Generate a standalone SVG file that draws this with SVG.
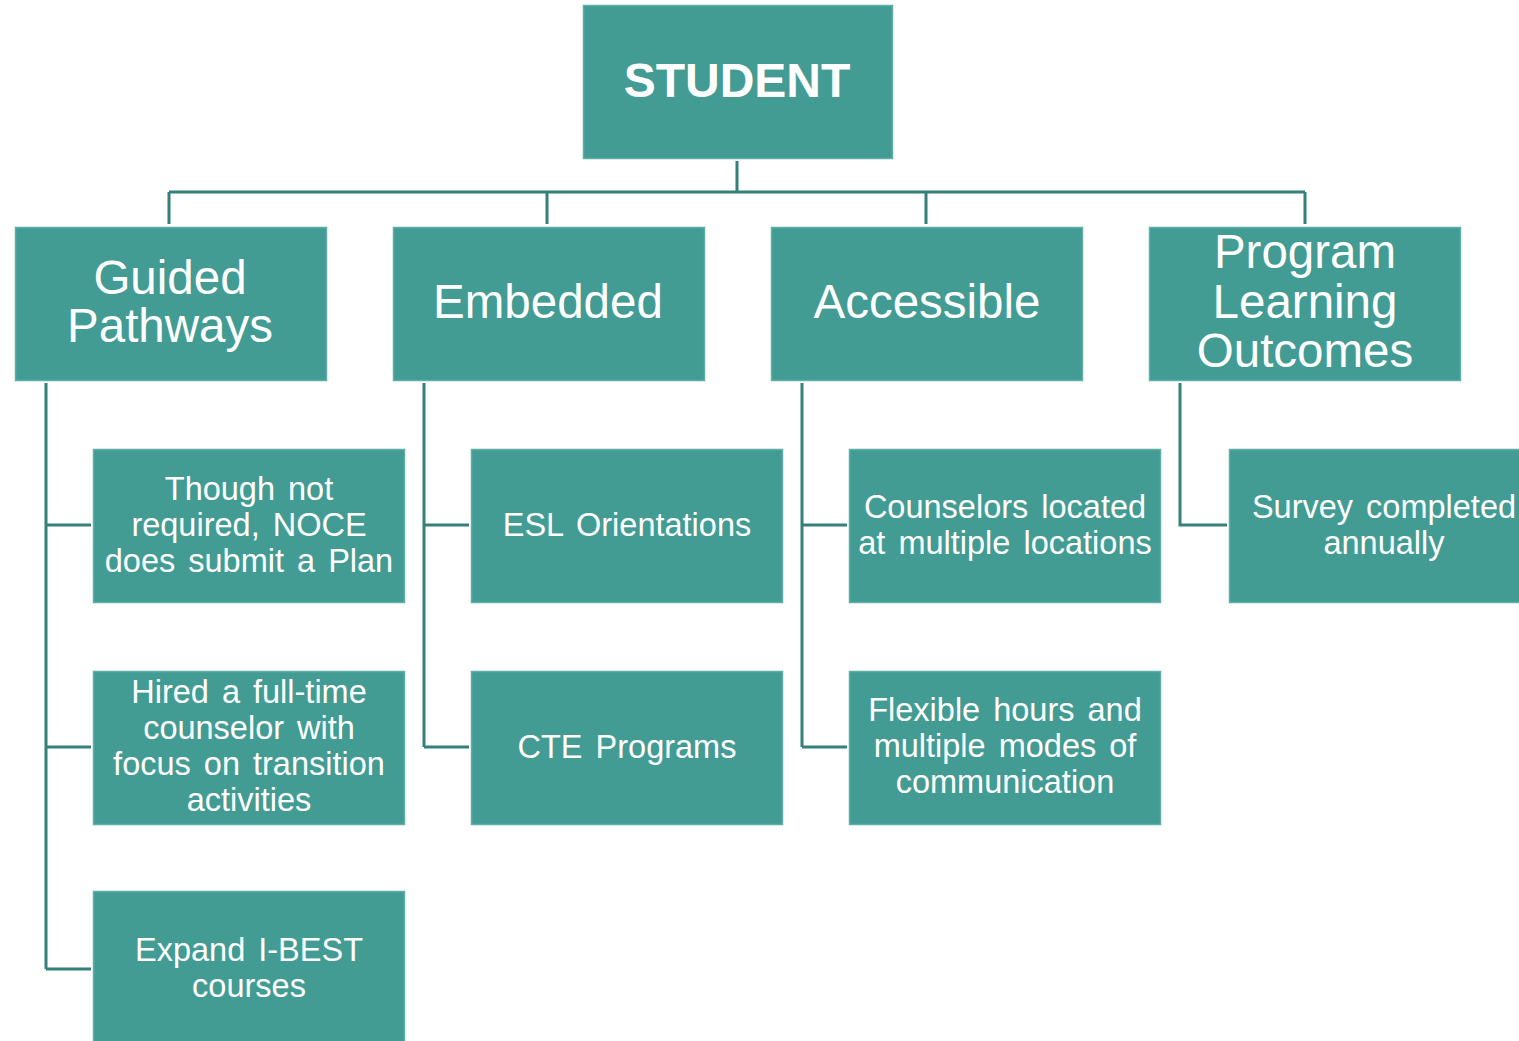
<svg xmlns="http://www.w3.org/2000/svg" width="1519" height="1041" viewBox="0 0 1519 1041">
<style>
.box{fill:#429C94;stroke:#5FAEA7;stroke-width:1.5}
.t{font-family:"Liberation Sans",Arial,sans-serif;fill:#FFFFFF;text-anchor:middle}
.l1{font-size:48px;font-weight:bold}
.l2{font-size:47.5px}
.l3{font-size:32.5px;word-spacing:4px}
.c{fill:none;stroke:#35807A;stroke-width:3}
</style>
<rect width="1519" height="1041" fill="#FFFFFF"/>
<g id="connectors">
<path class="c" d="M737,161 V192 M169,192 H1305 M169,192 V224 M547,192 V224 M926,192 V224 M1305,192 V224"/>
<path class="c" d="M46,383 V969 M46,525 H91 M46,747 H91 M46,969 H91"/>
<path class="c" d="M424,383 V747 M424,525 H469 M424,747 H469"/>
<path class="c" d="M802,383 V747 M802,525 H847 M802,747 H847"/>
<path class="c" d="M1180,383 V525 H1227"/>
</g>
<g id="student"><rect class="box" x="583.5" y="5.5" width="309" height="153"/><text class="t l1" x="737" y="97">STUDENT</text></g>
<g id="guided"><rect class="box" x="15.5" y="227.5" width="311" height="153"/><text class="t l2" x="170" y="294">Guided</text><text class="t l2" x="170" y="342">Pathways</text></g>
<g id="embedded"><rect class="box" x="393.5" y="227.5" width="311" height="153"/><text class="t l2" x="548" y="318">Embedded</text></g>
<g id="accessible"><rect class="box" x="771.5" y="227.5" width="311" height="153"/><text class="t l2" x="927" y="318">Accessible</text></g>
<g id="plo"><rect class="box" x="1149.5" y="227.5" width="311" height="153"/><text class="t l2" x="1305" y="268">Program</text><text class="t l2" x="1305" y="318">Learning</text><text class="t l2" x="1305" y="367">Outcomes</text></g>
<g id="noce"><rect class="box" x="93.5" y="449.5" width="311" height="153"/><text class="t l3" x="249" y="500">Though  not</text><text class="t l3" x="249" y="536">required, NOCE</text><text class="t l3" x="249" y="572">does  submit  a Plan</text></g>
<g id="counselor"><rect class="box" x="93.5" y="671.5" width="311" height="153"/><text class="t l3" x="249" y="703">Hired  a full-time</text><text class="t l3" x="249" y="739">counselor  with</text><text class="t l3" x="249" y="775">focus on transition</text><text class="t l3" x="249" y="811">activities</text></g>
<g id="ibest"><rect class="box" x="93.5" y="891.5" width="311" height="153"/><text class="t l3" x="249" y="961">Expand  I-BEST</text><text class="t l3" x="249" y="997">courses</text></g>
<g id="esl"><rect class="box" x="471.5" y="449.5" width="311" height="153"/><text class="t l3" x="627" y="536">ESL Orientations</text></g>
<g id="cte"><rect class="box" x="471.5" y="671.5" width="311" height="153"/><text class="t l3" x="627" y="758">CTE  Programs</text></g>
<g id="locations"><rect class="box" x="849.5" y="449.5" width="311" height="153"/><text class="t l3" x="1005" y="518">Counselors  located</text><text class="t l3" x="1005" y="554">at multiple  locations</text></g>
<g id="flexible"><rect class="box" x="849.5" y="671.5" width="311" height="153"/><text class="t l3" x="1005" y="721">Flexible  hours and</text><text class="t l3" x="1005" y="757">multiple  modes  of</text><text class="t l3" x="1005" y="793">communication</text></g>
<g id="survey"><rect class="box" x="1229.5" y="449.5" width="311" height="153"/><text class="t l3" x="1384" y="518">Survey  completed</text><text class="t l3" x="1384" y="554">annually</text></g>
</svg>
